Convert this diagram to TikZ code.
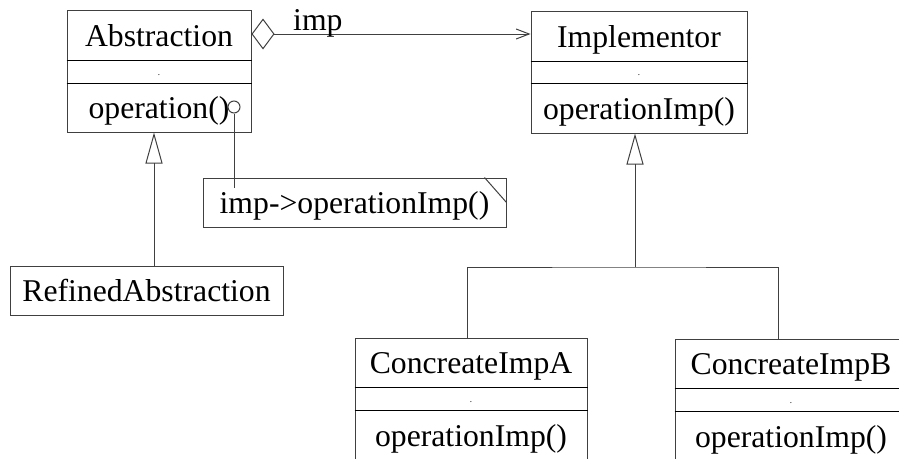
\documentclass[tikz,border=0pt]{standalone}
\usepackage{fontspec}
\setmainfont{Liberation Serif}
\usetikzlibrary{arrows.meta}
\begin{document}
\begin{tikzpicture}[x=1pt,y=-1pt,
  stroke/.style={draw=black!75, line width=1pt},
  big/.style={font=\fontsize{31.7}{36}\selectfont},
  part/.style={stroke, big, rectangle, inner sep=0pt, text height=22pt, text depth=0pt},
  attr/.style={stroke, rectangle, inner sep=0pt, font=\fontsize{9}{9}\selectfont, text height=7pt, text depth=0pt},
  divider/.style={draw=black, line width=1.6pt},
  gen/.style={stroke, -{Triangle[open, length=31pt, width=17pt]}},
  agg/.style={stroke, {Diamond[open, length=23pt, width=31pt]}-{Straight Barb[length=13pt, width=10pt]}},
]
\clip (0,0) rectangle (899,458);

% Abstraction
\node[part, minimum width=184pt, minimum height=50pt] (absname) at (159,35) {Abstraction};
\node[attr, minimum width=184pt, minimum height=23pt] (absattr) at (159,71.5) {.};
\node[part, minimum width=184pt, minimum height=49pt] (absops) at (159,107.5) {operation()};
\draw[divider] (absname.south west) -- (absname.south east);
\draw[divider] (absattr.south west) -- (absattr.south east);

% Implementor
\node[part, minimum width=216pt, minimum height=50pt] (implname) at (639,36) {Implementor};
\node[attr, minimum width=216pt, minimum height=22pt] (implattr) at (639,72) {.};
\node[part, minimum width=216pt, minimum height=50pt] (implops) at (639,108) {operationImp()};
\draw[divider] (implname.south west) -- (implname.south east);
\draw[divider] (implattr.south west) -- (implattr.south east);

% ConcreateImpA
\node[part, minimum width=232pt, minimum height=49pt] (caname) at (471,362.5) {ConcreateImpA};
\node[attr, minimum width=232pt, minimum height=23pt] (caattr) at (471,398.5) {.};
\node[part, minimum width=232pt, minimum height=50pt] (caops) at (471,435) {operationImp()};
\draw[divider] (caname.south west) -- (caname.south east);
\draw[divider] (caattr.south west) -- (caattr.south east);

% ConcreateImpB
\node[part, minimum width=232pt, minimum height=49pt] (cbname) at (791,363.5) {ConcreateImpB};
\node[attr, minimum width=232pt, minimum height=23pt] (cbattr) at (791,399.5) {.};
\node[part, minimum width=232pt, minimum height=50pt] (cbops) at (791,436) {operationImp()};
\draw[divider] (cbname.south west) -- (cbname.south east);
\draw[divider] (cbattr.south west) -- (cbattr.south east);

% RefinedAbstraction
\node[part, minimum width=273pt, minimum height=49pt] (refined) at (146.5,290.5) {RefinedAbstraction};

% note attached to operation()
\node[part, minimum width=303pt, minimum height=49pt] (note) at (354.5,202.5) {imp->operationImp()};
\draw[stroke] ([xshift=-22pt]note.north east) -- ([yshift=-25pt]note.north east);
\node[stroke, circle, minimum size=12pt, inner sep=0pt] (pin) at (234,107) {};
\coordinate (pinend) at ([yshift=-10pt]note.north -| pin.south);
\draw[stroke] (pin.south) -- (pinend);

% aggregation imp
\coordinate (aggstart) at ([yshift=1pt]absname.east);
\draw[agg] (aggstart) -- (aggstart -| implname.west);
\node[big, inner sep=0pt, anchor=base west] (implabel) at (293,30) {imp};

% generalizations
\coordinate (absfoot) at ([xshift=-5pt]absops.south);
\draw[gen] (absfoot |- refined.north) -- (absfoot);
\coordinate (bus) at (635,267);
\draw[gen] (bus) -- (bus |- implops.south);
\coordinate (catop) at ([xshift=-4pt]caname.north);
\coordinate (cbtop) at ([xshift=-12.5pt]cbname.north);
\draw[stroke] (catop) |- (bus) -| (cbtop);
\end{tikzpicture}
\end{document}
